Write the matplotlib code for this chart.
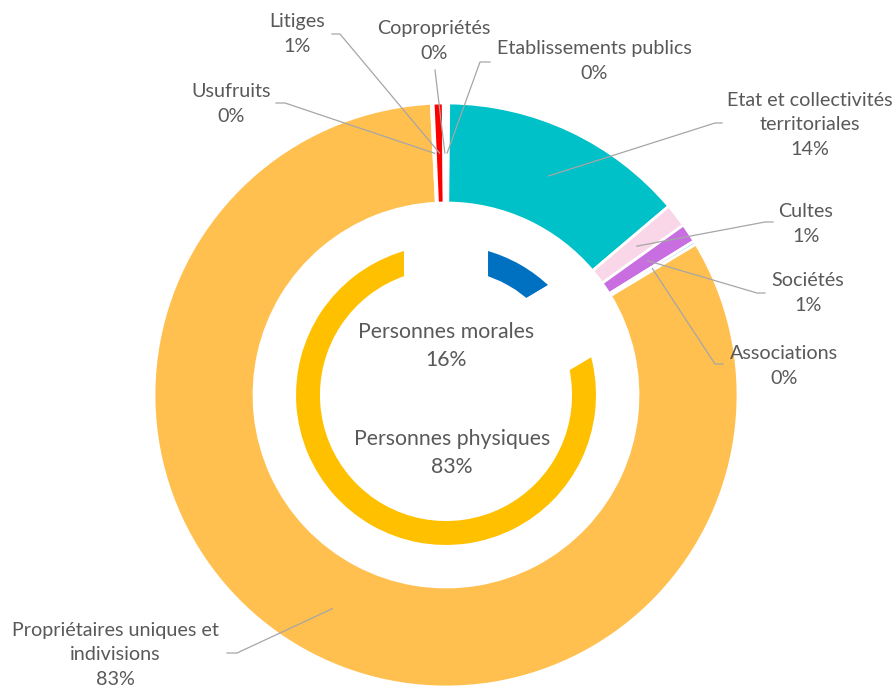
import matplotlib

matplotlib.use("Agg")
import matplotlib.pyplot as plt
import numpy as np

W, H = 896, 688

# outer ring, clockwise from the top (percent of owners)
categories = [
    "Etablissements publics",
    "Etat et collectivités\nterritoriales",
    "Cultes",
    "Sociétés",
    "Associations",
    "Propriétaires uniques et\nindivisions",
    "Usufruits",
    "Litiges",
    "Copropriétés",
]
values = [0.15, 13.65, 1.3, 1.05, 0.2, 82.8, 0.1, 0.55, 0.15]
colors = ["#DDEBF7", "#00C0C8", "#F9D6E8", "#C86EE0", "#BDD7EE",
          "#FFC050", "#F2F2F2", "#FF0000", "#DDF0D5"]

# inner ring
groups = ["Personnes morales", "Personnes physiques"]
group_values = [16.4, 83.4]
group_colors = ["#0070C0", "#FFC000"]

TEXT = "#595959"
LINE = "#A6A6A6"
FONT = "Lato"

# label layout, in picture pixels (y from the top): text centre, elbow, line end
label_pos = [(594, 61), (810, 125), (806, 224), (808, 293), (784, 366),
             (115, 655), (231, 104), (297, 34), (434, 41)]
elbows = [(480, 62), (715, 123), (765, 222), (757, 293), (715, 364),
          (237, 653), (285, 103), (340, 34), (435, 70)]
ends = [(490, 62), (722, 123), (773, 222), (765, 293), (723, 364),
        (227, 653), (276, 103), (332, 34), (435, 70)]
group_pos = [(446, 346), (452, 453)]


def img(x, y):
    return x, H - y


def main():
    fig = plt.figure(figsize=(W / 100, H / 100), dpi=100)
    ax = fig.add_axes([0, 0, 1, 1])
    center = img(446, 395)

    # inner ring: very thick white borders carve the gaps, as in the original
    ax.pie(group_values, colors=group_colors, radius=192, center=center,
           startangle=90, counterclock=False,
           wedgeprops=dict(width=108, edgecolor="white", linewidth=60.5, zorder=1))

    wedges, _ = ax.pie(values, colors=colors, radius=292, center=center,
                       startangle=90, counterclock=False,
                       wedgeprops=dict(width=100, edgecolor="white", linewidth=2, zorder=3))

    for w, name, v, pos, elbow, end in zip(wedges, categories, values, label_pos, elbows, ends):
        mid = np.deg2rad((w.theta1 + w.theta2) / 2)
        ax_, ay_ = center[0] + 242 * np.cos(mid), center[1] + 242 * np.sin(mid)
        ex, ey = img(*elbow)
        tx, ty = img(*end)
        ax.plot([ax_, ex, tx], [ay_, ey, ty], color=LINE, linewidth=0.9, zorder=4)
        ax.text(*img(*pos), f"{name}\n{v:.0f}%", ha="center", va="center",
                fontsize=14.2, color=TEXT, family=FONT, linespacing=1.55, zorder=5)

    for name, v, pos in zip(groups, group_values, group_pos):
        ax.text(*img(*pos), f"{name}\n{v:.0f}%", ha="center", va="center",
                fontsize=15.3, color=TEXT, family=FONT, linespacing=1.55, zorder=5)

    ax.set_xlim(0, W)
    ax.set_ylim(0, H)
    ax.set_aspect("equal")
    ax.axis("off")
    fig.savefig("out.png", dpi=100, facecolor="white")
    plt.close(fig)


if __name__ == "__main__":
    main()
